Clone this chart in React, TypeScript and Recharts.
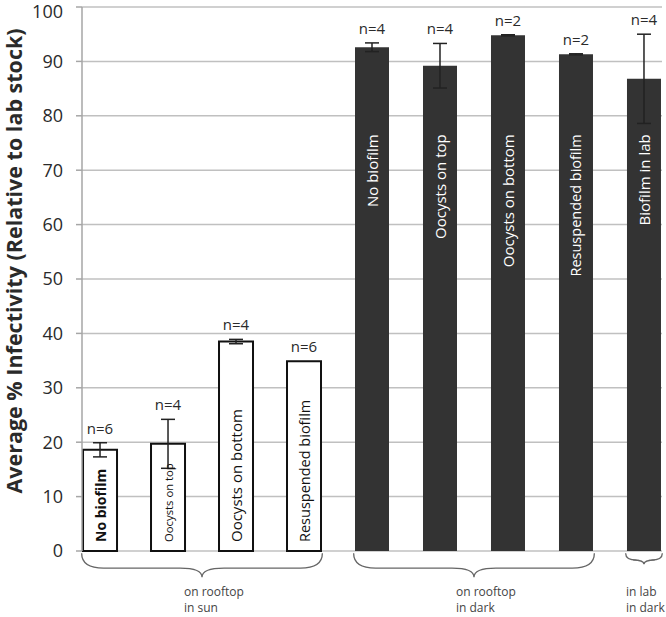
import {
  BarChart,
  Bar,
  XAxis,
  YAxis,
  CartesianGrid,
  ErrorBar,
  Cell,
  LabelList,
  Label,
  ReferenceArea,
} from "recharts";

const categories = [
  "No biofilm",
  "Oocysts on top",
  "Oocysts on bottom",
  "Resuspended biofilm",
  "No biofilm",
  "Oocysts on top",
  "Oocysts on bottom",
  "Resuspended biofilm",
  "Biofilm in lab",
];
const infectivity = [18.6, 19.7, 38.5, 34.9, 92.6, 89.2, 94.8, 91.3, 86.8];
const errors = [1.3, 4.5, 0.4, 0, 0.8, 4.1, 0.1, 0.1, 8.2];
const sampleSizes = [6, 4, 4, 6, 4, 4, 2, 2, 4];
const inSun = [true, true, true, true, false, false, false, false, false];

const groupLabels = [
  ["on rooftop", "in sun"],
  ["on rooftop", "in dark"],
  ["in lab", "in dark"],
];
const groupFirst = [0, 4, 8];
const groupLast = [3, 7, 8];

const yTicks = [0, 10, 20, 30, 40, 50, 60, 70, 80, 90, 100];

// label styling inside bars (the original uses uneven sizes)
const innerSize = [14, 11.3, 15, 14.5, 15, 15, 15, 14.5, 15];
const innerWeight = [700, 400, 400, 400, 400, 400, 400, 400, 400];
const DARK_LABEL_LEVEL = 76.6;

const rows = categories.map((name, i) => ({
  idx: i,
  name,
  value: infectivity[i],
  err: errors[i],
  n: sampleSizes[i],
}));

function CountLabel(props: any) {
  const { x, y, width, height, index } = props;
  const ppu = height / infectivity[index];
  const top = y - errors[index] * ppu;
  return (
    <text x={x + width / 2} y={top - 9} textAnchor="middle" fontSize={15} fill="#2a2a2a">
      n={sampleSizes[index]}
    </text>
  );
}

function InnerLabel(props: any) {
  const { x, y, width, height, index } = props;
  const cx = x + width / 2;
  const base = y + height;
  const ppu = height / infectivity[index];
  const sun = inSun[index];
  const ty = sun ? base - 9 : base - DARK_LABEL_LEVEL * ppu;
  return (
    <text
      x={cx}
      y={ty}
      transform={`rotate(-90, ${cx}, ${ty})`}
      textAnchor={sun ? "start" : "end"}
      dominantBaseline="central"
      fontSize={innerSize[index]}
      fontWeight={innerWeight[index]}
      fill={sun ? "#111" : "#fff"}
    >
      {categories[index]}
    </text>
  );
}

function YTick(props: any) {
  const { x, y, payload } = props;
  // keep the top label inside the picture, as the original does
  const ty = Math.max(y, 12);
  return (
    <text x={x} y={ty} dy="0.355em" textAnchor="end" fontSize={18} fill="#2a2a2a">
      {payload.value}
    </text>
  );
}

function Brace(props: any, lines: string[]) {
  const { x, y, width } = props;
  const depth = Math.min(24, width * 0.3);
  const r = Math.min(22, width * 0.3);
  const x1 = x;
  const x2 = x + width;
  const cx = x + width / 2;
  const y0 = y;
  const y1 = y0 + depth * 0.62;
  const y2 = y0 + depth;
  const d = `M${x1},${y0} Q${x1},${y1} ${x1 + r},${y1} L${cx - r},${y1} Q${cx},${y1} ${cx},${y2} Q${cx},${y1} ${cx + r},${y1} L${x2 - r},${y1} Q${x2},${y1} ${x2},${y0}`;
  return (
    <g>
      <path d={d} fill="none" stroke="#666" strokeWidth={1.3} />
      {lines.map((t, i) => (
        <text key={i} x={cx - 18} y={y0 + 43 + i * 16} fontSize={12} fill="#444">
          {t}
        </text>
      ))}
    </g>
  );
}

export default function App() {
  return (
    <div style={{ position: "absolute", left: 0, top: 0, fontFamily: "'Open Sans', sans-serif" }}>
      <BarChart
        width={666}
        height={617}
        data={rows}
        margin={{ top: 7, right: 4, bottom: 66, left: 0 }}
        barSize={34}
      >
        <CartesianGrid vertical={false} stroke="#c0c0c0" strokeWidth={1.5} />
        <XAxis
          type="number"
          dataKey="idx"
          domain={[-0.265, 8.265]}
          allowDataOverflow
          tick={false}
          tickLine={false}
          axisLine={{ stroke: "#999", strokeWidth: 1.5 }}
          height={0}
        />
        <YAxis
          domain={[0, 100]}
          ticks={yTicks}
          interval={0}
          width={82}
          tickSize={6}
          tickMargin={13}
          tick={<YTick />}
          axisLine={{ stroke: "#a6a6a6", strokeWidth: 1.5 }}
          tickLine={{ stroke: "#a6a6a6", strokeWidth: 1.5 }}
        >
          <Label
            content={({ viewBox }: any) => {
              const lx = viewBox.x + 13;
              const ly = viewBox.y + viewBox.height / 2 - 18;
              return (
                <text
                  x={lx}
                  y={ly}
                  transform={`rotate(-90, ${lx}, ${ly})`}
                  textAnchor="middle"
                  dominantBaseline="central"
                  fontSize={21.5}
                  fontWeight={700}
                  fill="#2a2a2a"
                >
                  Average % Infectivity (Relative to lab stock)
                </text>
              );
            }}
          />
        </YAxis>
        <Bar dataKey="value" isAnimationActive={false}>
          {rows.map((r, i) => (
            <Cell
              key={i}
              fill={inSun[i] ? "#ffffff" : "#333333"}
              stroke={inSun[i] ? "#111" : "none"}
              strokeWidth={inSun[i] ? 2 : 0}
            />
          ))}
          <ErrorBar dataKey="err" width={7} stroke="#222" strokeWidth={1.5} direction="y" />
          <LabelList dataKey="n" content={CountLabel} />
          <LabelList dataKey="name" content={InnerLabel} />
        </Bar>
        {groupLabels.map((lines, g) => (
          <ReferenceArea
            key={g}
            x1={groupFirst[g] - 0.27}
            x2={groupLast[g] + 0.27}
            y1={-0.6}
            y2={-0.4}
            ifOverflow="visible"
            shape={(p: any) => Brace(p, lines)}
          />
        ))}
      </BarChart>
    </div>
  );
}
